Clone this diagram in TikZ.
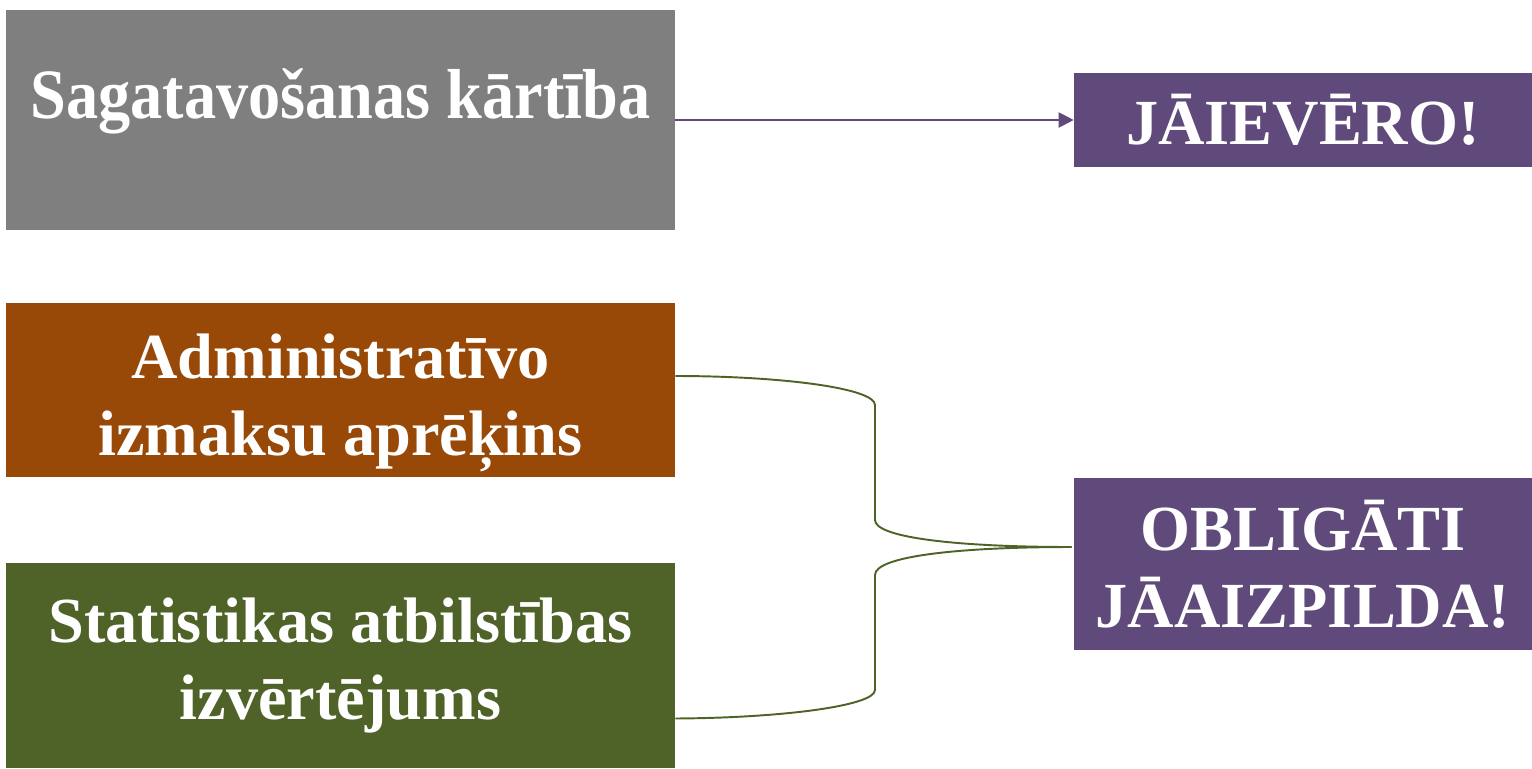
\documentclass[tikz,border=0pt]{standalone}
\usepackage{fontspec}
\setmainfont{Liberation Serif}
\usetikzlibrary{arrows.meta,positioning}

\tikzset{
  block/.style={rectangle, inner sep=0pt, text=white, align=center,
    font=\fontsize{36.6}{44}\selectfont\bfseries, minimum width=13.38cm},
  note/.style={block, fill=purplebox, minimum width=9.16cm},
}
\definecolor{graybox}{HTML}{7F7F7F}
\definecolor{brownbox}{HTML}{984807}
\definecolor{greenbox}{HTML}{4F6228}
\definecolor{purplebox}{HTML}{604A7B}

\begin{document}
\begin{tikzpicture}[x=0.02cm,y=-0.02cm]
  \useasboundingbox (0,0) rectangle (1532,768);
  % left column
  \node [block, fill=graybox, minimum height=4.4cm, text depth=1.05cm] (sag) at (340.5,120) {\scalebox{1}[1.1]{Sagatavošanas kārtība}};
  \node [block, fill=brownbox, minimum height=3.48cm] (adm) at (340.5,390) {\\[-0.14cm]Administratīvo\\izmaksu aprēķins};
  \node [block, fill=greenbox, minimum height=4.1cm] (stat) at (340.5,665.5) {Statistikas atbilstības\\izvērtējums};
  % right column
  \node [note, minimum height=1.88cm] (jaiev) at (1303,120) {JĀIEVĒRO!};
  \node [note, minimum height=3.44cm] (oblig) at (1303,564) {OBLIGĀTI\\JĀAIZPILDA!};

  \draw [-{Triangle[length=0.3cm,width=0.3cm]}, purplebox, line width=1.2pt]
    (sag.east) -- (jaiev.west);

  % brace
  \coordinate (admout) at ([yshift=0.28cm]adm.east);
  \coordinate (statout) at ([yshift=-1.06cm]stat.east);
  \coordinate (join) at ([xshift=-0.04cm,yshift=0.34cm]oblig.west);
  \draw [greenbox, line width=1.1pt]
    (admout) .. controls (780,376) and (875,388) .. (875,405) -- (875,520)
             .. controls (875,538) and (960,547) .. (join);
  \draw [greenbox, line width=1.1pt]
    (statout) .. controls (780,718) and (875,706) .. (875,690) -- (875,575)
              .. controls (875,556) and (960,547) .. (join);
\end{tikzpicture}
\end{document}
